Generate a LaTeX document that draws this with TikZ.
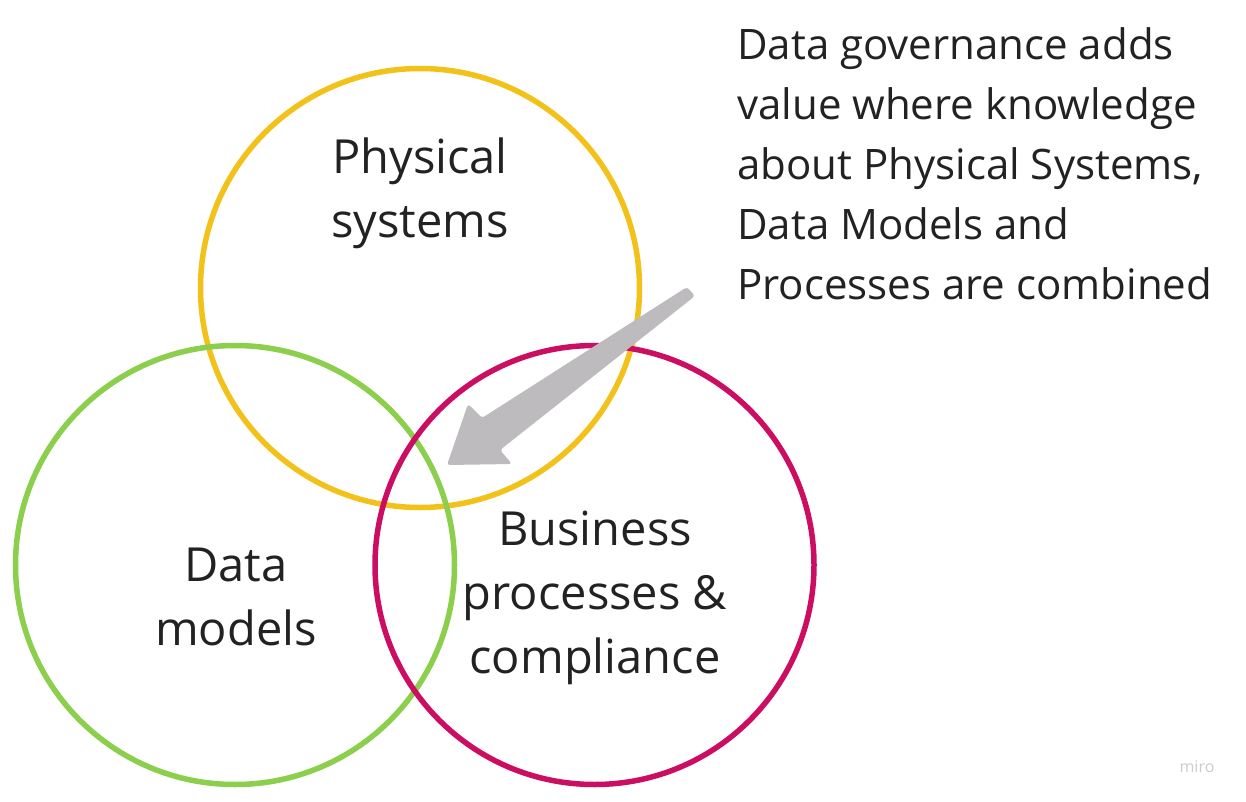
\documentclass[tikz,border=0pt]{standalone}
\usepackage{fontspec}
\setmainfont{Open Sans}
\definecolor{cyell}{HTML}{F2C21B}
\definecolor{cgreen}{HTML}{8CCF4C}
\definecolor{cmag}{HTML}{CC0E62}
\definecolor{carrow}{HTML}{BDBBBD}
\definecolor{ctext}{HTML}{222222}
\begin{document}
\begin{tikzpicture}[x=1pt,y=-1pt,
  ring/.style={draw=#1,line width=5.5pt,circle,minimum size=439pt,inner sep=0pt},
  lbl/.style={text=ctext,align=center,font=\fontsize{47}{64}\selectfont},
  note/.style={text=ctext,align=left,anchor=north west,font=\fontsize{42}{60}\selectfont,inner sep=0pt}]
\useasboundingbox[fill=white] (0,0) rectangle (1246,802);
\node[ring=cyell] (ps) at (420,288) {};
\node[ring=cgreen] (dm) at (235,565) {};
\node[ring=cmag] (bp) at (594.5,565) {};
\node[lbl] (pst) at (420,193) {Physical\\systems};
\node[lbl] (dmt) at (236,597) {Data\\models};
\node[lbl] (bpt) at (595,598) {Business\\processes \&\\compliance};
\node[note] (nt) at (737,27) {Data governance adds\\value where knowledge\\about Physical Systems,\\Data Models and\\Processes are combined};
\fill[carrow,rounded corners=3pt] (687,287) -- (695,296) -- (500,450) -- (512,464) -- (447,465) -- (468,404) -- (482,418) -- cycle;
\node[text=black!20,font=\fontsize{16}{16}\selectfont] (miro) at (1197,767) {miro};
\end{tikzpicture}
\end{document}
